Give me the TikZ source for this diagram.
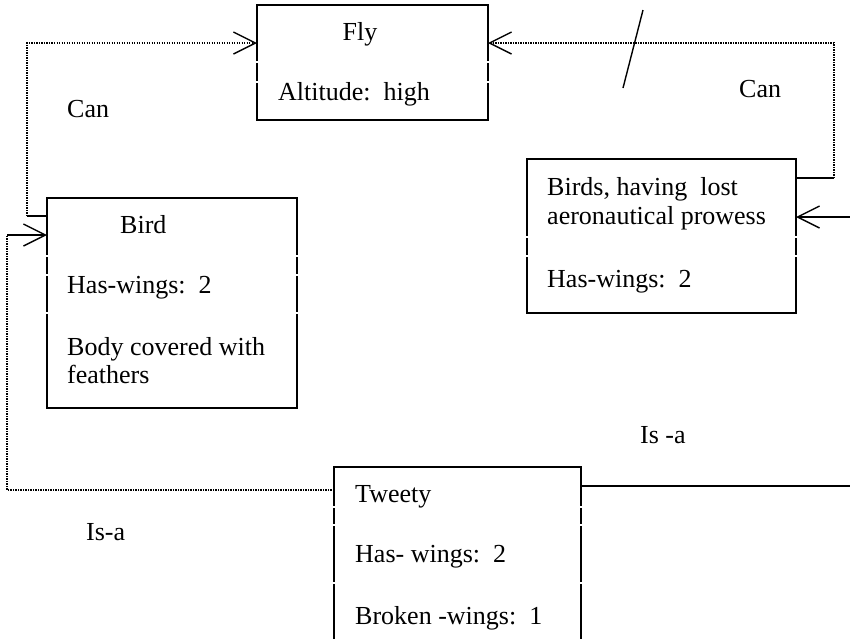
\documentclass[tikz,border=0pt]{standalone}
\usepackage{fontspec}
\setmainfont{Liberation Serif}
\usetikzlibrary{arrows.meta}
\begin{document}
\begin{tikzpicture}[x=1pt,y=-1pt,
  frame/.style={draw, line width=1.4pt, anchor=north west, inner sep=0pt, outer sep=0pt},
  txt/.style={anchor=base west, inner sep=0pt, font=\fontsize{26}{28}\selectfont},
  ctxt/.style={anchor=base, inner sep=0pt, font=\fontsize{26}{28}\selectfont},
  solidlink/.style={line width=1.4pt},
  dotlink/.style={line width=1.3pt, dash pattern=on 1.2pt off 1.3pt},
  barb/.style={-{Straight Barb[length=22pt,width=22pt,line width=1.4pt]}},
  gapmark/.style={fill=white}]
\useasboundingbox (0,0) rectangle (850,638);
\clip (0,0) rectangle (850,638);
% boxes
\node[frame, minimum width=231pt, minimum height=115pt] (fly) at (257,5) {};
\node[frame, minimum width=250pt, minimum height=210pt] (bird) at (47,198) {};
\node[frame, minimum width=269pt, minimum height=154pt] (lost) at (527,159) {};
\node[frame, minimum width=247pt, minimum height=220pt] (tweety) at (334,467) {};
% small breaks in the box sides
\foreach \x/\y in {257/62,488/62,257/82,488/82,
  47/256,297/256,47/275,297/275,47/313,297/313,
  527/237,796/237,527/256,796/256,
  334/507,581/507,334/525,581/525,334/583,581/583}
  \fill[gapmark] (\x-1.5,\y-0.7) rectangle (\x+1.5,\y+0.7);
% texts in boxes
\node[ctxt] (flyt) at (360,40) {Fly};
\node[txt] (flya) at (278,100) {Altitude:~~high};
\node[txt] (birdt) at (120,233) {Bird};
\node[txt] (birdw) at (67,293) {Has-wings:~~2};
\node[txt] (birdb1) at (67,355) {Body covered with};
\node[txt] (birdb2) at (67,383) {feathers};
\node[txt] (lost1) at (547,195) {Birds, having~~lost};
\node[txt] (lost2) at (547,224) {aeronautical prowess};
\node[txt] (lostw) at (547,287) {Has-wings:~~2};
\node[txt] (tw1) at (355,502) {Tweety};
\node[txt] (tw2) at (355,562) {Has- wings:~~2};
\node[txt] (tw3) at (355,624) {Broken -wings:~~1};
% labels
\node[txt] (canl) at (67,117) {Can};
\node[txt] (canr) at (739,97) {Can};
\node[txt] (isal) at (86,540) {Is-a};
\node[txt] (isar) at (640,443) {Is -a};
% Bird -> Fly (Can)
\coordinate (c1) at (27,216);
\coordinate (c2) at (27,43);
\draw[solidlink] (bird.west |- c1) -- (c1);
\draw[dotlink,barb] (c1) -- (c2) -- (fly.west |- c2);
% Lost -> Fly (Can, cancelled)
\coordinate (d1) at (834,178);
\coordinate (d2) at (834,43);
\draw[solidlink] (lost.east |- d1) -- (d1);
\draw[dotlink,barb] (d1) -- (d2) -- (fly.east |- d2);
\coordinate (s1) at (643,10);
\coordinate (s2) at (623,88);
\draw[solidlink] (s1) -- (s2);
% Tweety -> Bird (Is-a)
\coordinate (e1) at (7,490);
\coordinate (e2) at (7,235);
\draw[dotlink] (tweety.west |- e1) -- (e1) -- (e2);
\draw[solidlink,barb] (e2) -- (bird.west |- e2);
% Tweety -> Lost (Is -a)
\coordinate (f1) at (852,486);
\coordinate (f2) at (852,217);
\draw[solidlink] (tweety.east |- f1) -- (f1);
\draw[solidlink,barb] (f2) -- (lost.east |- f2);
\end{tikzpicture}
\end{document}
